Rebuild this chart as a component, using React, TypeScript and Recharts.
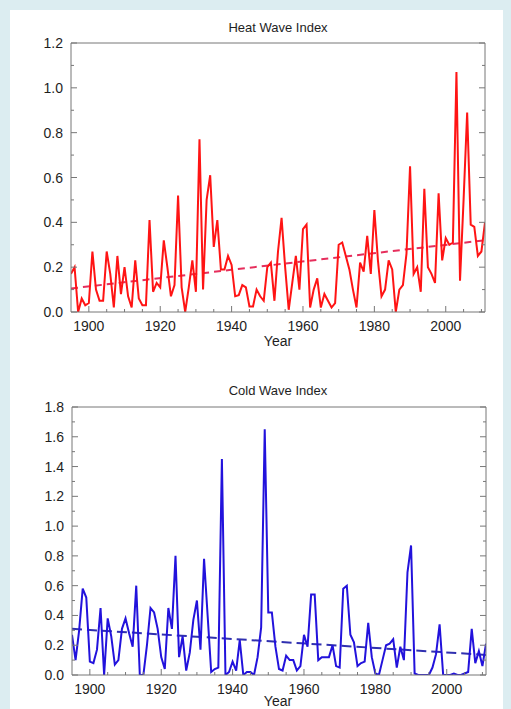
import { ComposedChart, Line, XAxis, YAxis } from 'recharts';

const firstYear = 1895;

// annual index values, 1895..2011
const heatIndex = [
  0.17, 0.2, 0.0, 0.06, 0.03, 0.04, 0.27, 0.1, 0.05, 0.05,
  0.27, 0.17, 0.02, 0.25, 0.08, 0.2, 0.07, 0.02, 0.23, 0.06,
  0.03, 0.03, 0.41, 0.09, 0.13, 0.11, 0.32, 0.2, 0.07, 0.12,
  0.52, 0.11, 0.0, 0.11, 0.23, 0.09, 0.77, 0.1, 0.5, 0.61,
  0.29, 0.41, 0.19, 0.19, 0.25, 0.21, 0.07, 0.075, 0.12, 0.11,
  0.025, 0.025, 0.1, 0.07, 0.05, 0.2, 0.22, 0.05, 0.27, 0.42,
  0.2, 0.01, 0.13, 0.25, 0.1, 0.37, 0.39, 0.02, 0.1, 0.15,
  0.02, 0.08, 0.05, 0.02, 0.04, 0.3, 0.31, 0.25, 0.19, 0.1,
  0.02, 0.22, 0.18, 0.34, 0.17, 0.455, 0.23, 0.07, 0.1, 0.23,
  0.19, 0.0, 0.1, 0.12, 0.26, 0.65, 0.17, 0.2, 0.09, 0.55,
  0.2, 0.17, 0.13, 0.53, 0.23, 0.33, 0.3, 0.31, 1.07, 0.14,
  0.5, 0.89, 0.39, 0.38, 0.25, 0.27, 0.4,
];

const coldIndex = [
  0.27, 0.1, 0.3, 0.58, 0.52, 0.09, 0.08, 0.17, 0.45, 0.0,
  0.38, 0.26, 0.07, 0.1, 0.31, 0.38, 0.28, 0.19, 0.6, 0.0,
  0.0, 0.2, 0.45, 0.42, 0.31, 0.12, 0.04, 0.45, 0.31, 0.8,
  0.12, 0.26, 0.03, 0.15, 0.37, 0.5, 0.17, 0.78, 0.4, 0.02,
  0.04, 0.05, 1.45, 0.0, 0.02, 0.09, 0.03, 0.235, 0.0, 0.02,
  0.02, 0.0, 0.12, 0.32, 1.65, 0.42, 0.42, 0.19, 0.04, 0.03,
  0.13, 0.1, 0.1, 0.03, 0.06, 0.27, 0.19, 0.54, 0.54, 0.1,
  0.12, 0.12, 0.12, 0.2, 0.06, 0.05, 0.58, 0.6, 0.27, 0.22,
  0.06, 0.08, 0.09, 0.35, 0.12, 0.01, 0.0, 0.1, 0.2, 0.21,
  0.24, 0.05, 0.19, 0.1, 0.69, 0.87, 0.01, 0.0, 0.0, 0.0,
  0.0, 0.05, 0.14, 0.34, 0.0, 0.0, 0.0, 0.01, 0.0, 0.0,
  0.01, 0.02, 0.31, 0.08, 0.16, 0.06, 0.21,
];

// linear trend end points
const heatTrendYears = [1895, 2011];
const heatTrendValues = [0.105, 0.32];
const coldTrendYears = [1895, 2011];
const coldTrendValues = [0.31, 0.135];

const yearTicks = [
  1900, 1905, 1910, 1915, 1920, 1925, 1930, 1935, 1940, 1945, 1950, 1955,
  1960, 1965, 1970, 1975, 1980, 1985, 1990, 1995, 2000, 2005, 2010,
];
const yearLabels = [1900, 1920, 1940, 1960, 1980, 2000];
const heatTicks = [0, 0.1, 0.2, 0.3, 0.4, 0.5, 0.6, 0.7, 0.8, 0.9, 1.0, 1.1, 1.2];
const coldTicks = [
  0, 0.1, 0.2, 0.3, 0.4, 0.5, 0.6, 0.7, 0.8, 0.9, 1.0, 1.1, 1.2, 1.3, 1.4, 1.5, 1.6, 1.7, 1.8,
];

const years = heatIndex.map((_, i) => firstYear + i);
const heatData = years.map((year, i) => ({ year, value: heatIndex[i] }));
const coldData = years.map((year, i) => ({ year, value: coldIndex[i] }));
const heatTrend = heatTrendYears.map((year, i) => ({ year, value: heatTrendValues[i] }));
const coldTrend = coldTrendYears.map((year, i) => ({ year, value: coldTrendValues[i] }));

const FONT = '"Liberation Sans", Arial, Helvetica, sans-serif';
const AXIS = '#777777';
const TEXT = '#1e1e1e';

const isMajorY = (v: number) => Math.round(v * 10) % 2 === 0;

function BottomTick({ x, y, payload }: any) {
  const major = yearLabels.includes(payload.value);
  return (
    <g>
      <line x1={x} x2={x} y1={y} y2={y - (major ? 6 : 3)} stroke={AXIS} />
      {major && (
        <text x={x} y={y + 19} textAnchor="middle" fontSize={14} fontFamily={FONT} fill={TEXT}>
          {payload.value}
        </text>
      )}
    </g>
  );
}

function TopTick({ x, y, payload }: any) {
  const major = yearLabels.includes(payload.value);
  return <line x1={x} x2={x} y1={y} y2={y + (major ? 6 : 3)} stroke={AXIS} />;
}

function LeftTick({ x, y, payload }: any) {
  const major = isMajorY(payload.value);
  return (
    <g>
      <line x1={x} x2={x + (major ? 6 : 3)} y1={y} y2={y} stroke={AXIS} />
      {major && (
        <text x={x - 8} y={y + 5} textAnchor="end" fontSize={14} fontFamily={FONT} fill={TEXT}>
          {payload.value.toFixed(1)}
        </text>
      )}
    </g>
  );
}

function RightTick({ x, y, payload }: any) {
  const major = isMajorY(payload.value);
  return <line x1={x} x2={x - (major ? 6 : 3)} y1={y} y2={y} stroke={AXIS} />;
}

function Panel({ data, trend, ticks, max, color, trendColor, dash, top, height, topH, bottomH, leftW, rightW }: any) {
  return (
    <div style={{ position: 'absolute', left: 0, top }}>
      <ComposedChart width={511} height={height} data={data} margin={{ top: 0, right: 0, bottom: 0, left: 0 }}>
        <XAxis
          dataKey="year"
          type="number"
          domain={[1895, 2011]}
          ticks={yearTicks}
          interval={0}
          allowDataOverflow
          height={bottomH}
          tickSize={0}
          tickMargin={0}
          tickLine={false}
          axisLine={{ stroke: AXIS }}
          tick={<BottomTick />}
        />
        <XAxis
          xAxisId="top"
          orientation="top"
          type="number"
          domain={[1895, 2011]}
          ticks={yearTicks}
          interval={0}
          allowDataOverflow
          height={topH}
          tickSize={0}
          tickMargin={0}
          tickLine={false}
          axisLine={{ stroke: AXIS }}
          tick={<TopTick />}
        />
        <YAxis
          type="number"
          domain={[0, max]}
          ticks={ticks}
          interval={0}
          allowDataOverflow
          width={leftW}
          tickSize={0}
          tickMargin={0}
          tickLine={false}
          axisLine={{ stroke: AXIS }}
          tick={<LeftTick />}
        />
        <YAxis
          yAxisId="right"
          orientation="right"
          type="number"
          domain={[0, max]}
          ticks={ticks}
          interval={0}
          allowDataOverflow
          width={rightW}
          tickSize={0}
          tickMargin={0}
          tickLine={false}
          axisLine={{ stroke: AXIS }}
          tick={<RightTick />}
        />
        <Line
          data={trend}
          dataKey="value"
          type="linear"
          stroke={trendColor}
          strokeWidth={2}
          strokeDasharray={dash}
          dot={false}
          isAnimationActive={false}
        />
        <Line
          dataKey="value"
          type="linear"
          stroke={color}
          strokeWidth={2}
          dot={false}
          isAnimationActive={false}
        />
      </ComposedChart>
    </div>
  );
}

const textStyle = (top: number, size: number): any => ({
  position: 'absolute',
  left: 71,
  width: 414,
  top,
  textAlign: 'center',
  fontFamily: FONT,
  fontSize: size,
  lineHeight: '16px',
  color: TEXT,
  zIndex: 2,
});

export default function App() {
  return (
    <div
      style={{
        position: 'relative',
        width: 511,
        height: 709,
        background: '#dcedf1',
        overflow: 'hidden',
      }}
    >
      <style>{'html, body { margin: 0; padding: 0; }'}</style>
      <div style={{ position: 'absolute', left: 10, top: 10, width: 493, height: 699, background: '#ffffff' }} />
      <div style={textStyle(20, 13)}>Heat Wave Index</div>
      <Panel
        data={heatData}
        trend={heatTrend}
        ticks={heatTicks}
        max={1.2}
        color="#ff1414"
        trendColor="#e62e5c"
        dash="7 5"
        top={0}
        height={360}
        topH={43}
        bottomH={48}
        leftW={71}
        rightW={26}
      />
      <div style={textStyle(333, 14)}>Year</div>
      <div style={textStyle(383, 13)}>Cold Wave Index</div>
      <Panel
        data={coldData}
        trend={coldTrend}
        ticks={coldTicks}
        max={1.8}
        color="#2212dc"
        trendColor="#3030b0"
        dash="10 5"
        top={360}
        height={349}
        topH={47}
        bottomH={34}
        leftW={72}
        rightW={25}
      />
      <div style={textStyle(693, 14)}>Year</div>
    </div>
  );
}
